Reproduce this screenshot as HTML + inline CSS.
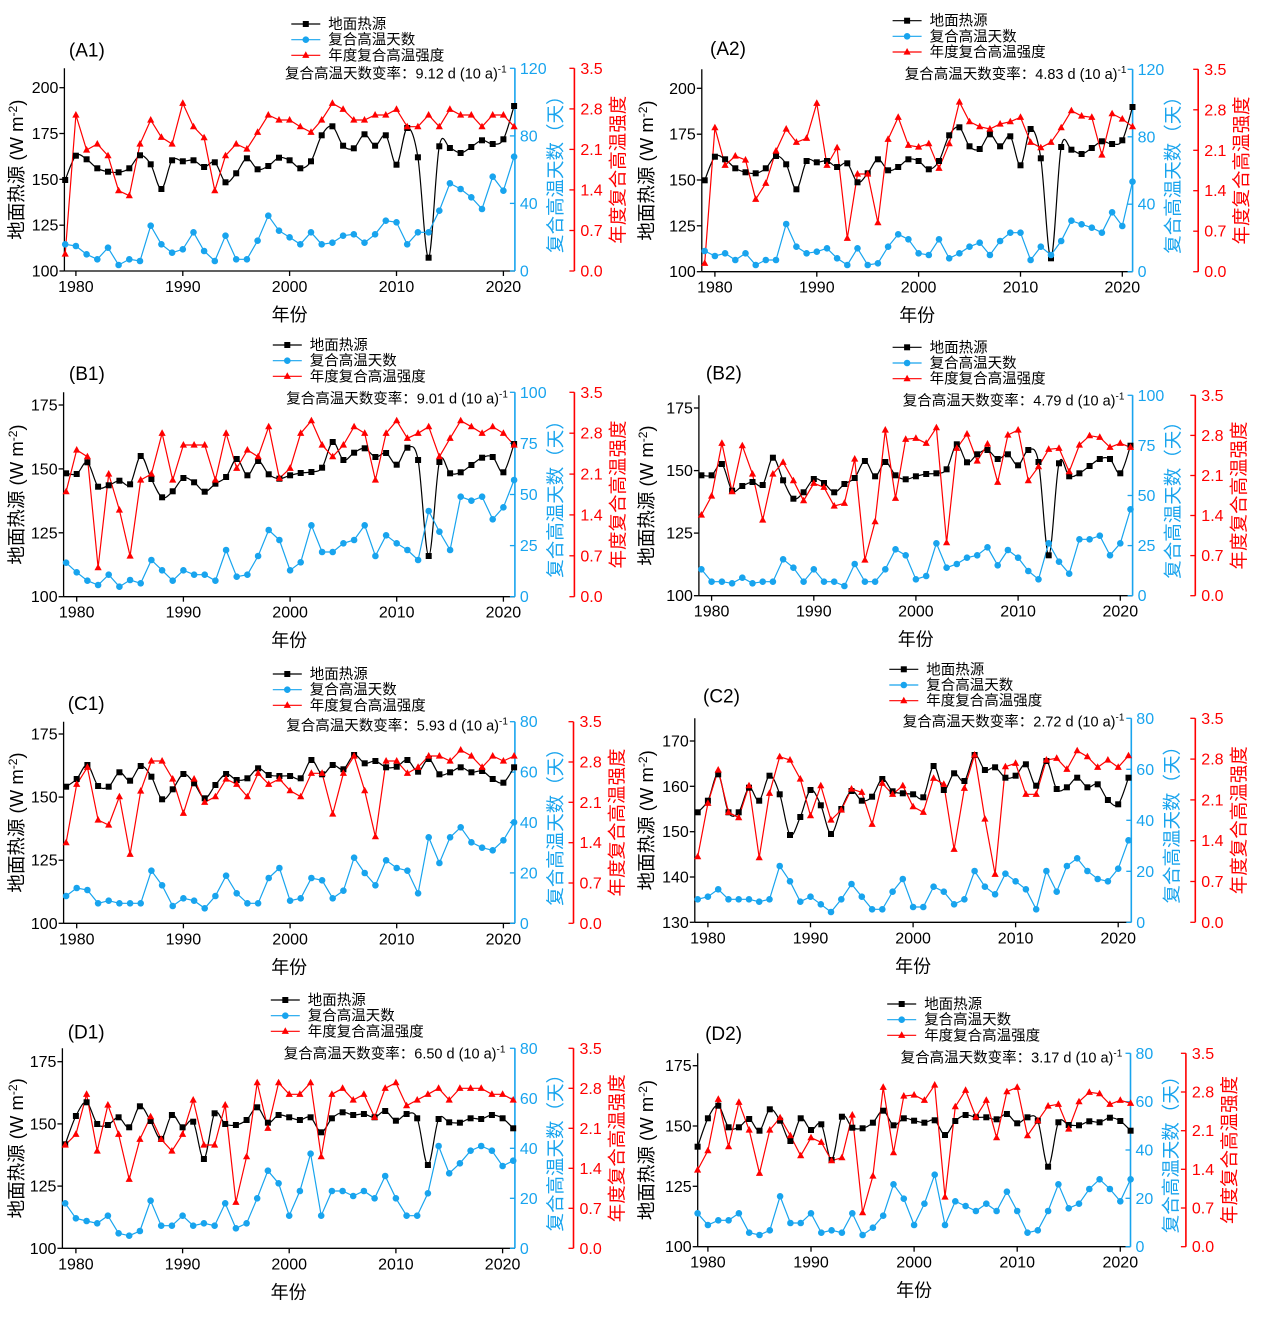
<!DOCTYPE html>
<html><head><meta charset="utf-8"><style>
html,body{margin:0;padding:0;background:#fff;}
svg{display:block;font-family:"Liberation Sans","Noto Sans CJK SC",sans-serif;}
</style></head><body>
<svg id="s" width="1269" height="1318" xmlns="http://www.w3.org/2000/svg"></svg>
<script>
const SX=2.4375, SY=3;
const BLUE="#18a4ee", RED="#ff0000";
const P=[
{n:"A1",ox:0,oy:0,L:157,B:813,T:205,Rb:1255,Rr:1400,x80:185,x20:1227,lt:[100,200,25,263],bt:[0,120,40],rate:"9.12",lg:[710,72],lb:[168,170],rb:[235,1235],
k:[540,467,478,505,515,517,505,466,493,567,481,484,481,501,487,547,520,475,508,498,473,481,505,484,406,379,437,445,403,437,406,494,384,472,773,439,444,459,441,421,432,418,318],
b:[733,738,763,778,743,795,778,783,677,733,758,748,697,753,783,707,778,778,722,647,692,712,733,697,733,728,707,703,728,703,662,667,733,697,697,632,550,567,592,627,530,572,470],
r:[762,345,450,432,467,572,587,432,360,412,432,310,380,413,572,467,432,447,397,345,360,360,380,397,360,310,328,360,360,345,345,328,380,380,345,380,328,345,345,380,345,345,380]},
{n:"A2",ox:630,oy:0,L:175,B:815,T:208,Rb:1225,Rr:1385,x80:207,x20:1200,lt:[100,200,25,265],bt:[0,120,40],rate:"4.83",lg:[640,62],lb:[195,165],rb:[237,1210],
k:[541,470,478,505,517,520,505,468,493,568,483,487,483,501,490,547,520,478,511,501,478,483,508,483,406,382,439,447,403,439,409,496,387,475,775,441,449,462,444,424,432,421,321],
b:[753,768,760,780,760,795,780,780,672,740,760,755,745,775,795,745,795,790,740,703,718,760,765,718,775,760,740,728,765,723,698,698,780,740,765,723,662,673,683,698,637,678,545],
r:[790,383,496,468,480,598,550,453,387,427,415,310,496,443,715,522,522,668,418,352,436,441,431,505,431,306,365,380,387,372,365,352,427,443,427,383,332,348,352,465,341,357,380]},
{n:"B1",ox:0,oy:330,L:155,B:800,T:187,Rb:1255,Rr:1400,x80:187,x20:1227,lt:[100,175,25,225],bt:[0,100,25],rate:"9.01",lg:[665,45],lb:[168,150],rb:[220,1238],
k:[430,432,397,470,466,452,463,378,447,502,484,444,457,485,461,441,387,436,393,433,446,436,429,426,413,336,390,368,355,381,369,404,353,390,678,396,430,427,405,383,381,427,342],
b:[698,727,752,765,734,770,750,760,690,721,752,721,734,734,752,660,740,734,678,600,630,721,697,586,666,666,640,630,586,678,616,640,660,690,543,605,660,500,512,500,568,532,450],
r:[485,360,380,713,432,540,678,450,432,310,450,345,345,345,450,310,415,360,380,290,445,415,310,272,345,380,345,290,310,450,310,272,325,310,290,380,325,272,290,310,290,310,345]},
{n:"B2",ox:630,oy:330,L:168,B:797,T:196,Rb:1225,Rr:1378,x80:199,x20:1195,lt:[100,175,25,234],bt:[0,100,25],rate:"4.79",lg:[640,52],lb:[185,148],rb:[227,1205],
k:[436,436,402,482,468,456,465,383,451,506,487,447,459,487,462,444,393,439,396,436,448,439,432,430,418,343,397,373,360,387,373,406,360,396,676,400,439,430,408,387,387,430,347],
b:[718,755,755,760,743,760,755,755,688,713,755,718,755,755,768,702,755,755,718,658,676,748,738,640,713,702,683,676,652,706,660,683,723,748,640,695,731,628,628,617,676,640,538],
r:[555,498,340,485,347,432,570,432,397,452,512,460,472,528,520,387,690,575,300,505,328,325,340,293,638,355,312,393,342,457,315,300,452,410,358,355,425,345,317,322,352,340,352]},
{n:"C1",ox:0,oy:660,L:155,B:790,T:185,Rb:1255,Rr:1398,x80:187,x20:1227,lt:[100,175,25,222],bt:[0,80,20],rate:"5.93",lg:[665,42],lb:[165,150],rb:[212,1238],
k:[380,357,315,378,380,337,362,318,350,418,388,342,370,415,375,342,360,355,325,345,348,348,355,300,343,315,328,285,310,303,322,320,300,335,297,343,337,322,337,333,357,368,322],
b:[708,684,690,730,722,730,730,730,632,676,738,715,722,745,708,647,700,730,730,654,624,722,715,654,661,715,692,593,639,676,601,624,632,700,532,609,532,502,547,563,571,541,487],
r:[548,373,322,480,495,410,583,393,303,303,357,460,357,427,410,357,373,410,340,373,357,392,410,340,340,462,340,288,392,530,303,303,340,322,288,288,303,270,288,322,288,303,288]},
{n:"C2",ox:630,oy:660,L:158,B:787,T:175,Rb:1222,Rr:1378,x80:190,x20:1190,lt:[130,170,10,243],bt:[0,80,20],rate:"2.72",lg:[632,28],lb:[178,128],rb:[200,1205],
k:[457,422,343,457,457,383,422,347,403,525,471,390,436,522,447,393,422,410,357,394,400,403,412,318,390,340,363,285,330,322,353,347,313,377,303,387,382,353,382,373,420,433,353],
b:[718,710,688,718,718,718,725,718,618,664,725,710,733,756,718,672,710,748,748,695,657,741,741,680,695,733,718,633,680,703,641,664,688,748,633,695,618,595,633,657,664,626,541],
r:[590,430,330,457,473,377,593,400,290,300,357,467,377,480,450,387,397,493,370,403,377,440,457,355,373,568,385,285,477,643,320,310,403,403,300,295,328,272,290,322,300,322,287]},
{n:"D1",ox:0,oy:985,L:152,B:790,T:190,Rb:1255,Rr:1398,x80:185,x20:1225,lt:[100,175,25,230],bt:[0,80,20],rate:"6.50",lg:[660,45],lb:[165,160],rb:[220,1232],
k:[478,393,352,417,420,397,427,364,408,462,390,427,410,522,385,417,420,405,367,413,390,397,405,397,442,400,382,390,387,397,378,407,387,400,540,402,412,413,400,402,390,400,430],
b:[655,700,708,715,692,745,752,738,647,722,722,692,722,715,722,655,730,715,640,557,595,692,618,506,692,618,618,633,618,640,573,640,692,692,625,483,565,535,497,483,497,543,527],
r:[480,448,328,498,360,448,583,463,395,463,498,448,345,480,480,360,652,515,293,430,293,328,328,293,515,328,310,345,328,397,310,293,362,345,328,310,345,310,310,310,328,328,345]},
{n:"D2",ox:630,oy:985,L:165,B:785,T:205,Rb:1220,Rr:1355,x80:190,x20:1195,lt:[100,175,25,242],bt:[0,80,20],rate:"3.17",lg:[627,57],lb:[183,165],rb:[232,1200],
k:[485,400,362,427,427,402,437,373,407,468,400,435,418,525,395,428,430,413,377,421,400,407,413,406,450,408,390,397,397,403,387,415,397,407,545,412,420,421,409,412,398,408,437],
b:[685,720,706,706,685,743,750,736,634,714,714,685,743,736,743,685,750,728,692,598,641,720,656,569,720,649,663,678,656,678,620,678,743,736,678,598,670,656,612,583,612,649,583],
r:[555,497,343,485,352,435,565,435,398,452,512,458,472,527,518,390,683,573,307,503,333,330,346,300,636,365,316,396,346,458,320,307,452,407,363,358,432,350,322,326,358,346,355]}
];
let o="";
function t(x,y,s,sz,col,anc,extra){o+=`<text x="${x.toFixed(1)}" y="${y.toFixed(1)}" font-size="${sz}" fill="${col}" text-anchor="${anc||'start'}" ${extra||''}>${s}</text>`;}
function ln(x1,y1,x2,y2,c,w){o+=`<line x1="${x1.toFixed(1)}" y1="${y1.toFixed(1)}" x2="${x2.toFixed(1)}" y2="${y2.toFixed(1)}" stroke="${c}" stroke-width="${w||1.3}"/>`;}
function sq(x,y){o+=`<rect x="${(x-3).toFixed(1)}" y="${(y-3).toFixed(1)}" width="6" height="6" fill="#000"/>`;}
function ci(x,y){o+=`<circle cx="${x.toFixed(1)}" cy="${y.toFixed(1)}" r="3.3" fill="${BLUE}"/>`;}
function tr(x,y){o+=`<polygon points="${x.toFixed(1)},${(y-4).toFixed(1)} ${(x-3.6).toFixed(1)},${(y+2.6).toFixed(1)} ${(x+3.6).toFixed(1)},${(y+2.6).toFixed(1)}" fill="${RED}"/>`;}
for(const p of P){
 const X=zx=>p.ox+zx/SX, Y=zy=>p.oy+zy/SY;
 const L=X(p.L),B=Y(p.B),T=Y(p.T),Rb=X(p.Rb),Rr=X(p.Rr);
 const py=(p.x20-p.x80)/40;
 const yx=i=>X(p.x80+(i-1)*py);
 ln(L,T,L,B,"#000");ln(L,B,Rb,B,"#000");
 ln(Rb,T,Rb,B,BLUE,1.6);ln(Rr,T,Rr,B,RED,1.6);
 const [lmin,lmax,lst,ltop]=p.lt;
 for(let v=lmin;v<=lmax+0.01;v+=lst){const y=Y(p.B+(p.B-ltop)*(lmin-v)/(lmax-lmin)*1);ln(L-5,y,L,y,"#000");t(L-6,y+5.5,v,16,"#000","end");}
 const [bmin,bmax,bst]=p.bt;
 for(let v=bmin;v<=bmax+0.01;v+=bst){const y=B-(B-T)*(v-bmin)/(bmax-bmin);ln(Rb-5,y,Rb,y,BLUE,1.3);t(Rb+5,y+5.5,v,16,BLUE);}
 for(let i=0;i<=5;i++){const y=B-(B-T)*i/5;ln(Rr-5,y,Rr,y,RED,1.3);t(Rr+6,y+5.5,(0.7*i).toFixed(1),16,RED);}
 for(let yr=1980;yr<=2020;yr+=10){const x=yx(yr-1979);ln(x,B,x,B+5,"#000");t(x,B+21,yr,16,"#000","middle");}
 const kx=p.k.map((v,i)=>[yx(i),Y(v)]);
 let d=`M${kx[0][0].toFixed(1)},${kx[0][1].toFixed(1)}`;
 for(let i=0;i<kx.length-1;i++){const p0=kx[Math.max(0,i-1)],p1=kx[i],p2=kx[i+1],p3=kx[Math.min(kx.length-1,i+2)];
  const c1=[p1[0]+(p2[0]-p0[0])/6,p1[1]+(p2[1]-p0[1])/6],c2=[p2[0]-(p3[0]-p1[0])/6,p2[1]-(p3[1]-p1[1])/6];
  d+=` C${c1[0].toFixed(1)},${c1[1].toFixed(1)} ${c2[0].toFixed(1)},${c2[1].toFixed(1)} ${p2[0].toFixed(1)},${p2[1].toFixed(1)}`;}
 o+=`<path d="${d}" fill="none" stroke="#000" stroke-width="1.2"/>`;
 const bp=p.b.map((v,i)=>yx(i).toFixed(1)+","+Y(v).toFixed(1)).join(" ");
 o+=`<polyline points="${bp}" fill="none" stroke="${BLUE}" stroke-width="1.2"/>`;
 const rp=p.r.map((v,i)=>yx(i).toFixed(1)+","+Y(v).toFixed(1)).join(" ");
 o+=`<polyline points="${rp}" fill="none" stroke="${RED}" stroke-width="1.2"/>`;
 p.k.forEach((v,i)=>sq(yx(i),Y(v)));
 p.b.forEach((v,i)=>ci(yx(i),Y(v)));
 p.r.forEach((v,i)=>tr(yx(i),Y(v)));
 t(X(p.lb[0]),Y(p.lb[1]),"("+p.n+")",19,"#000");
 const lgx=X(p.lg[0]);const names=["地面热源","复合高温天数","年度复合高温强度"],cols=["#000",BLUE,RED];
 for(let j=0;j<3;j++){const y=Y(p.lg[1]+j*47);ln(lgx,y,lgx+29,y,cols[j],1.2);
  if(j==0)sq(lgx+14.5,y);else if(j==1)ci(lgx+14.5,y);else tr(lgx+14.5,y);
  t(lgx+37,y+5,names[j],14.5,"#000");}
 t(X(p.rb[1]),Y(p.rb[0]),`复合高温天数变率：${p.rate} d (10 a)<tspan dy="-6" font-size="10">-1</tspan>`,14.5,"#000","end");
 const my=(T+B)/2;
 t(0,0,`地面热源 (W m<tspan dy="-6" font-size="12">-2</tspan><tspan dy="6">)</tspan>`,18.5,"#000","middle",`transform="translate(${(p.ox+23).toFixed(1)},${my.toFixed(1)}) rotate(-90)"`);
 t(0,0,"复合高温天数（天）",18.5,BLUE,"middle",`transform="translate(${(Rb+47).toFixed(1)},${my.toFixed(1)}) rotate(-90)"`);
 t(0,0,"年度复合高温强度",18.5,RED,"middle",`transform="translate(${(Rr+50).toFixed(1)},${my.toFixed(1)}) rotate(-90)"`);
 t((L+Rb)/2,B+50,"年份",18,"#000","middle");
}
document.getElementById("s").innerHTML=o;
</script>
</body></html>
